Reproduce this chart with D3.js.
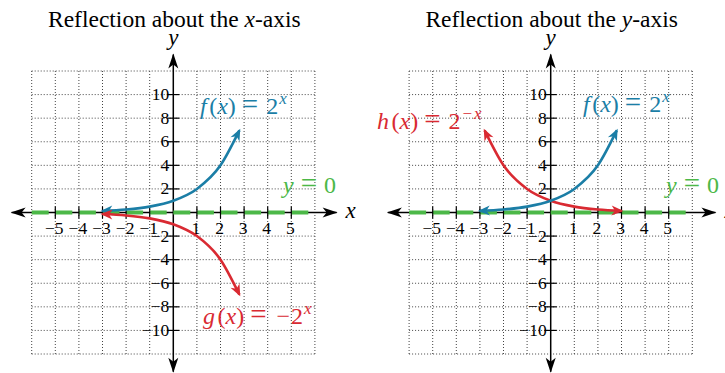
<!DOCTYPE html>
<html>
<head>
<meta charset="utf-8">
<script src="https://cdn.jsdelivr.net/npm/d3@7"></script>
</head>
<body style="margin:0; background:#fff">
<svg id="chart" width="725" height="373"></svg>
<script>
// tick labels and grid
const xTicks = [-5, -4, -3, -2, -1, 1, 2, 3, 4, 5];
const yTicks = [-10, -8, -6, -4, -2, 2, 4, 6, 8, 10];
const gridX = [-6, -5, -4, -3, -2, -1, 1, 2, 3, 4, 5, 6];
const gridY = [-12, -10, -8, -6, -4, -2, 2, 4, 6, 8, 10, 12];

// curves
const fX = [-3, -2, -1, 0, 1, 2, 2.8];
const fY = [0.125, 0.25, 0.5, 1, 2, 4, 6.96];
const gX = [-3, -2, -1, 0, 1, 2, 2.8];
const gY = [-0.125, -0.25, -0.5, -1, -2, -4, -6.96];
const hX = [-2.8, -2, -1, 0, 1, 2, 3];
const hY = [6.96, 4, 2, 1, 0.5, 0.25, 0.125];
const asymX = [-6, 6];
const asymY = [0, 0];

const blue = "#1b7ea6", red = "#d92a32", green = "#4cb848";
const serif = '"Liberation Serif", "Times New Roman", serif';

const svg = d3.select("#chart");
const defs = svg.append("defs");

function marker(id, color, d) {
  defs.append("marker")
    .attr("id", id)
    .attr("viewBox", "-16 -8 20 16")
    .attr("refX", 0).attr("refY", 0)
    .attr("markerUnits", "userSpaceOnUse")
    .attr("markerWidth", 20).attr("markerHeight", 16)
    .attr("orient", "auto-start-reverse")
    .append("path")
      .attr("d", d)
      .attr("fill", color);
}
const small = "M2,0 L-10,-5 L-6.5,0 L-10,5 Z";
marker("arBlue", blue, small);
marker("arRed", red, small);
marker("arBlack", "#000", "M1,0 L-14,-5 L-10,0 L-14,5 Z");

const y = d3.scaleLinear().domain([-12, 12]).range([354, 71]);

function txt(sel) {
  return sel.append("text").style("font-family", serif);
}

function drawPanel(cx, titleParts, curves, xEnds) {
  const x = d3.scaleLinear().domain([-6, 6]).range([cx - 141.6, cx + 141.6]);
  const g = svg.append("g");

  // dotted grid
  g.selectAll(".gx").data(gridX).join("line")
    .attr("x1", d => x(d)).attr("x2", d => x(d))
    .attr("y1", y(12)).attr("y2", y(-12))
    .attr("stroke", "#444").attr("stroke-width", 1)
    .attr("stroke-dasharray", "1,2");
  g.selectAll(".gy").data(gridY).join("line")
    .attr("y1", d => y(d)).attr("y2", d => y(d))
    .attr("x1", x(-6)).attr("x2", x(6))
    .attr("stroke", "#444").attr("stroke-width", 1)
    .attr("stroke-dasharray", "1,2");

  // axes with arrows both ways
  g.append("line")
    .attr("x1", x(xEnds[0])).attr("x2", x(xEnds[1]))
    .attr("y1", y(0)).attr("y2", y(0))
    .attr("stroke", "#000").attr("stroke-width", 1.5)
    .attr("marker-start", "url(#arBlack)").attr("marker-end", "url(#arBlack)");
  g.append("line")
    .attr("x1", x(0)).attr("x2", x(0))
    .attr("y1", y(13.4)).attr("y2", y(-13.5))
    .attr("stroke", "#000").attr("stroke-width", 1.5)
    .attr("marker-start", "url(#arBlack)").attr("marker-end", "url(#arBlack)");

  // y = 0 asymptote
  g.append("path")
    .attr("d", d3.line().x((d, i) => x(asymX[i])).y((d, i) => y(asymY[i]))(asymX))
    .attr("fill", "none").attr("stroke", green).attr("stroke-width", 4)
    .attr("stroke-dasharray", "17,6.6");

  // ticks
  g.selectAll(".tx").data(xTicks).join("line")
    .attr("x1", d => x(d)).attr("x2", d => x(d))
    .attr("y1", y(0) - 6).attr("y2", y(0) + 6)
    .attr("stroke", "#000").attr("stroke-width", 1.2);
  g.selectAll(".ty").data(yTicks).join("line")
    .attr("y1", d => y(d)).attr("y2", d => y(d))
    .attr("x1", x(0) - 6).attr("x2", x(0) + 6)
    .attr("stroke", "#000").attr("stroke-width", 1.2);

  g.selectAll(".lx").data(xTicks).join("text")
    .style("font-family", serif)
    .attr("x", d => x(d) - 1).attr("y", y(0) + 21)
    .attr("text-anchor", "middle").attr("font-size", 17.5)
    .text(d => d < 0 ? "\u2212" + (-d) : d);
  g.selectAll(".ly").data(yTicks).join("text")
    .style("font-family", serif)
    .attr("x", x(0) - 4).attr("y", d => y(d) + 5.5)
    .attr("text-anchor", "end").attr("font-size", 17.5)
    .text(d => d < 0 ? "\u2212" + (-d) : d);

  // curves
  curves.forEach(c => {
    g.append("path")
      .attr("d", d3.line().curve(d3.curveMonotoneX)
        .x((d, i) => x(c.xs[i])).y((d, i) => y(c.ys[i]))(c.xs))
      .attr("fill", "none").attr("stroke", c.color).attr("stroke-width", 2.6)
      .attr("marker-start", `url(#${c.marker})`).attr("marker-end", `url(#${c.marker})`);
  });

  // axis names
  txt(g).attr("x", x(xEnds[1]) + 9).attr("y", y(0) + 5)
    .attr("font-size", 23).attr("font-style", "italic").text("x");
  txt(g).attr("x", x(0)).attr("y", 45)
    .attr("text-anchor", "middle")
    .attr("font-size", 23).attr("font-style", "italic").text("y");

  // title
  const t = txt(g).attr("x", x(0) + 1).attr("y", 27)
    .attr("text-anchor", "middle").attr("font-size", 23.5);
  t.append("tspan").text(titleParts[0]);
  t.append("tspan").attr("font-style", "italic").text(titleParts[1]);
  t.append("tspan").text(titleParts[2]);
  return x;
}

function label(px, py, color, fname, sign, sup) {
  const t = txt(svg).attr("x", px).attr("y", py)
    .attr("font-size", 24).attr("fill", color);
  t.append("tspan").attr("font-style", "italic").text(fname);
  t.append("tspan").attr("dx", 2.5).text("(");
  t.append("tspan").attr("font-style", "italic").text("x");
  t.append("tspan").text(")");
  t.append("tspan").attr("dx", 6).attr("font-size", 29).text("=");
  if (sign) t.append("tspan").attr("dx", 10).text(sign);
  t.append("tspan").attr("dx", sign ? 1 : 8).text("2");
  t.append("tspan").attr("dx", 1).attr("dy", -10).attr("font-size", 17)
    .attr("font-style", "italic").attr("letter-spacing", 1).text(sup);
}
function zeroLabel(px, py) {
  const t = txt(svg).attr("x", px).attr("y", py)
    .attr("font-size", 24).attr("fill", green);
  t.append("tspan").attr("font-style", "italic").text("y");
  t.append("tspan").attr("dx", 7).attr("font-size", 29).text("=");
  t.append("tspan").attr("dx", 7).text("0");
}

drawPanel(173.3, ["Reflection about the ", "x", "-axis"], [
  { xs: fX, ys: fY, color: blue, marker: "arBlue" },
  { xs: gX, ys: gY, color: red, marker: "arRed" }
], [-6.85, 6.92]);

drawPanel(550.7, ["Reflection about the ", "y", "-axis"], [
  { xs: hX, ys: hY, color: red, marker: "arRed" },
  { xs: fX, ys: fY, color: blue, marker: "arBlue" }
], [-6.9, 6.98]);

label(200, 114, blue, "f", "", "x");
zeroLabel(283, 193);
label(203, 324, red, "g", "\u2212", "x");

label(377, 129, red, "h", "", "\u2212x");
label(583, 112, blue, "f", "", "x");
zeroLabel(666, 193);
</script>
</body>
</html>
